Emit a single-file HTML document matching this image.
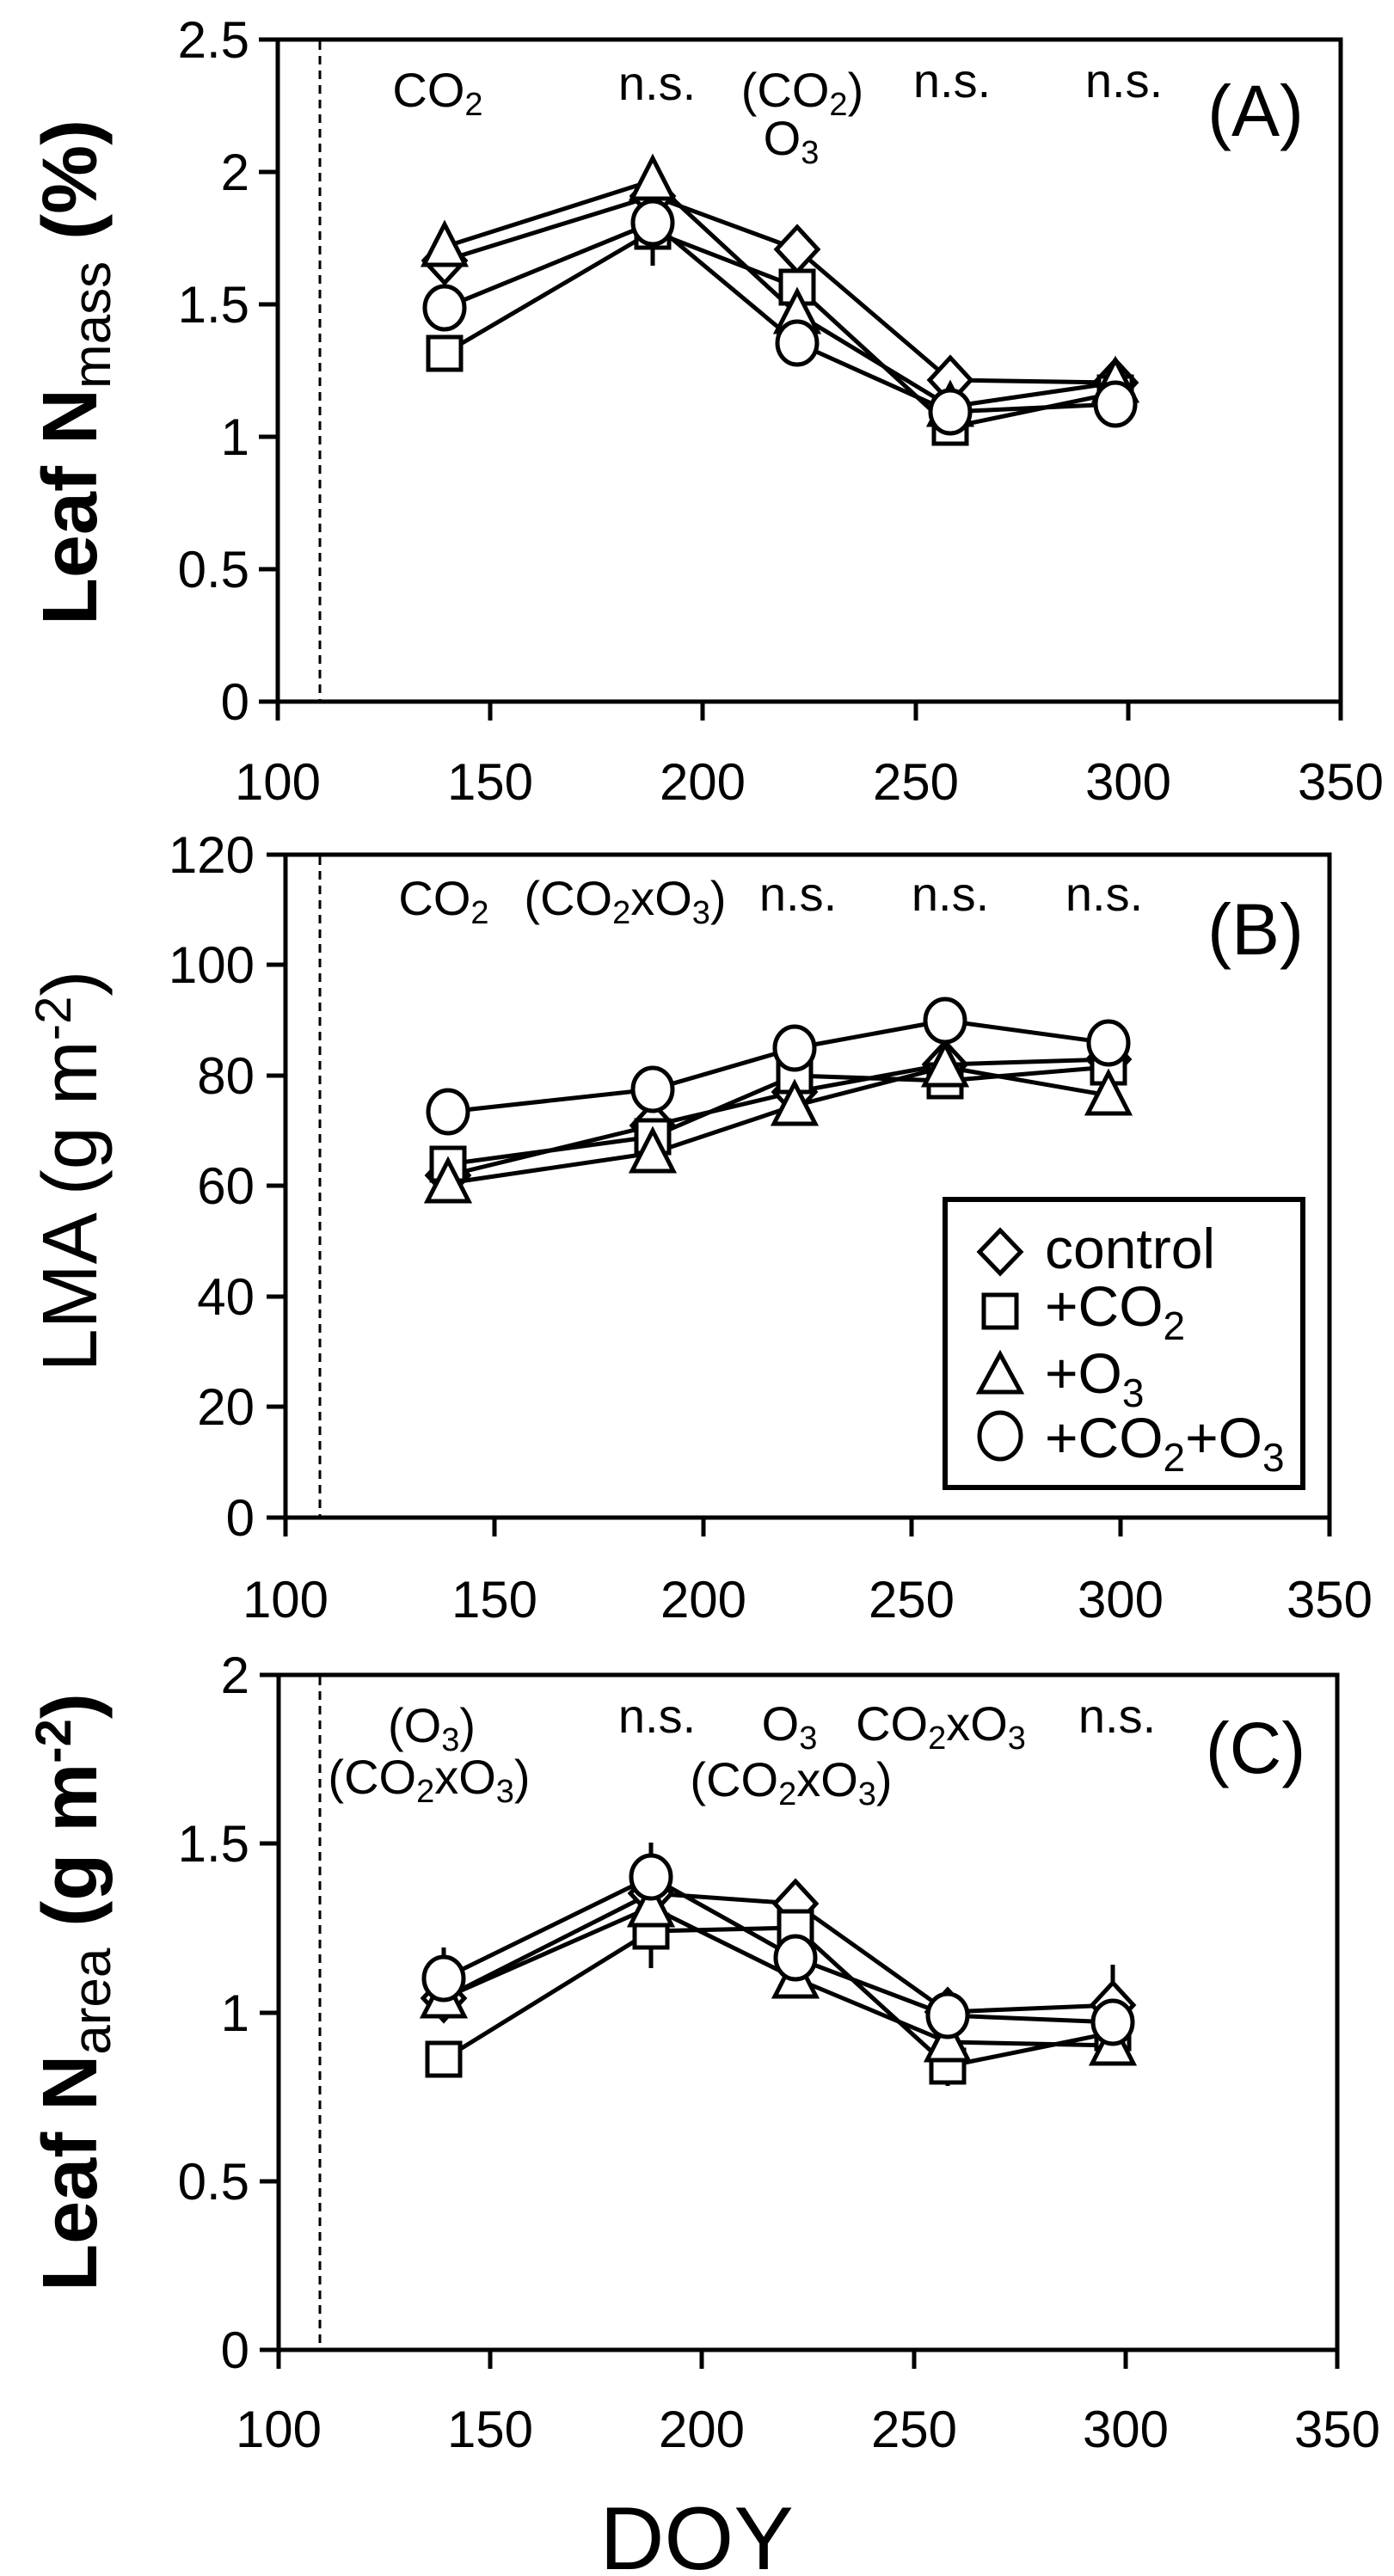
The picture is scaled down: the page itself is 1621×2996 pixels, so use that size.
<!DOCTYPE html>
<html><head><meta charset="utf-8"><style>
html,body{margin:0;padding:0;background:#fff;}
svg{display:block;}
text{font-family:"Liberation Sans",sans-serif;fill:#000;}
.t{font-size:60px;}
.an{font-size:56px;}
.lab{font-size:84px;}
.yl{font-size:90px;font-weight:bold;}
.lg{font-size:66px;}
.ax{stroke:#000;stroke-width:5;fill:none;}
.ln{stroke:#000;stroke-width:5;fill:none;stroke-linejoin:round;}
.mk{stroke:#000;stroke-width:5;fill:#fff;}
</style></head><body>
<svg width="1621" height="2996" viewBox="0 0 1621 2996" xmlns="http://www.w3.org/2000/svg">
<defs>
<path id="dm" d="M0,-26 L24,0 L0,26 L-24,0 Z"/>
<path id="sq" d="M-19,-19 H19 V19 H-19 Z"/>
<path id="tr" d="M0,-26 L24,21 L-24,21 Z"/>
<ellipse id="ci" cx="0" cy="0" rx="23" ry="25"/>
</defs>

<!-- ============ PANEL A ============ -->
<rect x="323" y="46" width="1236" height="770" class="ax"/>
<line x1="372" y1="48" x2="372" y2="814" stroke="#000" stroke-width="3" stroke-dasharray="10,7"/>
<g class="ax">
<line x1="301" y1="46" x2="323" y2="46"/><line x1="301" y1="200" x2="323" y2="200"/><line x1="301" y1="354" x2="323" y2="354"/><line x1="301" y1="508" x2="323" y2="508"/><line x1="301" y1="662" x2="323" y2="662"/><line x1="301" y1="816" x2="323" y2="816"/>
<line x1="323" y1="816" x2="323" y2="838"/><line x1="570" y1="816" x2="570" y2="838"/><line x1="817" y1="816" x2="817" y2="838"/><line x1="1065" y1="816" x2="1065" y2="838"/><line x1="1312" y1="816" x2="1312" y2="838"/><line x1="1559" y1="816" x2="1559" y2="838"/>
</g>
<g class="t" text-anchor="end">
<text x="290" y="67">2.5</text><text x="290" y="221">2</text><text x="290" y="375">1.5</text><text x="290" y="529">1</text><text x="290" y="683">0.5</text><text x="290" y="837">0</text>
</g>
<g class="t" text-anchor="middle">
<text x="323" y="930">100</text><text x="570" y="930">150</text><text x="817" y="930">200</text><text x="1065" y="930">250</text><text x="1312" y="930">300</text><text x="1559" y="930">350</text>
</g>
<text class="yl" transform="translate(112,433) rotate(-90)" text-anchor="middle">Leaf N<tspan font-size="62" font-weight="normal" dy="16">mass</tspan><tspan dy="-16"> (%)</tspan></text>
<g class="an" text-anchor="middle">
<text x="509" y="124">CO<tspan font-size="38" dy="10">2</tspan></text>
<text x="764" y="116">n.s.</text>
<text x="933" y="124">(CO<tspan font-size="38" dy="10">2</tspan><tspan dy="-10">)</tspan></text>
<text x="920" y="180">O<tspan font-size="38" dy="10">3</tspan></text>
<text x="1107" y="113">n.s.</text>
<text x="1307" y="113">n.s.</text>
</g>
<text class="lab" x="1460" y="158" text-anchor="middle">(A)</text>
<g class="ln">
<line x1="517" y1="432" x2="517" y2="411"/><line x1="759" y1="309" x2="759" y2="185"/><line x1="1297" y1="497" x2="1297" y2="417"/>
<polyline points="517,303 759,228 927,290 1105,442 1297,445"/>
<polyline points="517,411 759,269 927,334 1105,497 1297,457"/>
<polyline points="517,287 759,210 927,365 1105,473 1297,445"/>
<polyline points="517,358 759,259 927,399 1105,479 1297,470"/>
</g>
<g class="mk">
<use href="#dm" x="517" y="303"/><use href="#dm" x="759" y="228"/><use href="#dm" x="927" y="290"/><use href="#dm" x="1105" y="442"/><use href="#dm" x="1297" y="445"/>
<use href="#sq" x="517" y="411"/><use href="#sq" x="759" y="269"/><use href="#sq" x="927" y="334"/><use href="#sq" x="1105" y="497"/><use href="#sq" x="1297" y="457"/>
<use href="#tr" x="517" y="287"/><use href="#tr" x="759" y="210"/><use href="#tr" x="927" y="365"/><use href="#tr" x="1105" y="473"/><use href="#tr" x="1297" y="445"/>
<use href="#ci" x="517" y="358"/><use href="#ci" x="759" y="259"/><use href="#ci" x="927" y="399"/><use href="#ci" x="1105" y="479"/><use href="#ci" x="1297" y="470"/>
</g>

<!-- ============ PANEL B ============ -->
<rect x="332" y="994" width="1214" height="771" class="ax"/>
<line x1="372" y1="996" x2="372" y2="1763" stroke="#000" stroke-width="3" stroke-dasharray="10,7"/>
<g class="ax">
<line x1="310" y1="994" x2="332" y2="994"/><line x1="310" y1="1122" x2="332" y2="1122"/><line x1="310" y1="1251" x2="332" y2="1251"/><line x1="310" y1="1379" x2="332" y2="1379"/><line x1="310" y1="1508" x2="332" y2="1508"/><line x1="310" y1="1636" x2="332" y2="1636"/><line x1="310" y1="1765" x2="332" y2="1765"/>
<line x1="332" y1="1765" x2="332" y2="1787"/><line x1="575" y1="1765" x2="575" y2="1787"/><line x1="818" y1="1765" x2="818" y2="1787"/><line x1="1060" y1="1765" x2="1060" y2="1787"/><line x1="1303" y1="1765" x2="1303" y2="1787"/><line x1="1546" y1="1765" x2="1546" y2="1787"/>
</g>
<g class="t" text-anchor="end">
<text x="296" y="1015">120</text><text x="296" y="1143">100</text><text x="296" y="1272">80</text><text x="296" y="1400">60</text><text x="296" y="1529">40</text><text x="296" y="1657">20</text><text x="296" y="1786">0</text>
</g>
<g class="t" text-anchor="middle">
<text x="332" y="1881">100</text><text x="575" y="1881">150</text><text x="818" y="1881">200</text><text x="1060" y="1881">250</text><text x="1303" y="1881">300</text><text x="1546" y="1881">350</text>
</g>
<text class="yl" transform="translate(112,1362) rotate(-90)" text-anchor="middle" style="font-weight:normal">LMA (g m<tspan font-size="58" dy="-30">-2</tspan><tspan dy="30">)</tspan></text>
<g class="an" text-anchor="middle">
<text x="516" y="1064">CO<tspan font-size="38" dy="10">2</tspan></text>
<text x="727" y="1064">(CO<tspan font-size="38" dy="10">2</tspan><tspan dy="-10">xO</tspan><tspan font-size="38" dy="10">3</tspan><tspan dy="-10">)</tspan></text>
<text x="928" y="1059">n.s.</text>
<text x="1105" y="1059">n.s.</text>
<text x="1284" y="1059">n.s.</text>
</g>
<text class="lab" x="1460" y="1110" text-anchor="middle">(B)</text>
<g class="ln">
<line x1="521" y1="1316" x2="521" y2="1293"/><line x1="924" y1="1193" x2="924" y2="1302"/><line x1="1099" y1="1206" x2="1099" y2="1277"/><line x1="1289" y1="1296" x2="1289" y2="1273"/>
<polyline points="521,1367 759,1309 924,1270 1099,1238 1289,1232"/>
<polyline points="521,1354 759,1322 924,1251 1099,1257 1289,1241"/>
<polyline points="521,1376 759,1341 924,1286 1099,1241 1289,1274"/>
<polyline points="521,1293 759,1267 924,1219 1099,1187 1289,1213"/>
</g>
<g class="mk">
<use href="#dm" x="521" y="1367"/><use href="#dm" x="759" y="1309"/><use href="#dm" x="924" y="1270"/><use href="#dm" x="1099" y="1238"/><use href="#dm" x="1289" y="1232"/>
<use href="#sq" x="521" y="1354"/><use href="#sq" x="759" y="1322"/><use href="#sq" x="924" y="1251"/><use href="#sq" x="1099" y="1257"/><use href="#sq" x="1289" y="1241"/>
<use href="#tr" x="521" y="1376"/><use href="#tr" x="759" y="1341"/><use href="#tr" x="924" y="1286"/><use href="#tr" x="1099" y="1241"/><use href="#tr" x="1289" y="1274"/>
<use href="#ci" x="521" y="1293"/><use href="#ci" x="759" y="1267"/><use href="#ci" x="924" y="1219"/><use href="#ci" x="1099" y="1187"/><use href="#ci" x="1289" y="1213"/>
</g>
<!-- legend -->
<rect x="1099" y="1395" width="416" height="335" class="ax" style="stroke-width:6"/>
<g class="mk">
<path d="M1163,1431 L1187,1456 L1163,1481 L1139,1456 Z"/>
<rect x="1144" y="1506" width="38" height="38"/>
<path d="M1163,1575 L1187,1619 L1139,1619 Z"/>
<ellipse cx="1163" cy="1670" rx="24" ry="27"/>
</g>
<g class="lg">
<text x="1215" y="1475">control</text>
<text x="1215" y="1542">+CO<tspan font-size="46" dy="16">2</tspan></text>
<text x="1215" y="1620">+O<tspan font-size="46" dy="16">3</tspan></text>
<text x="1215" y="1695">+CO<tspan font-size="46" dy="16">2</tspan><tspan dy="-16">+O</tspan><tspan font-size="46" dy="16">3</tspan></text>
</g>

<!-- ============ PANEL C ============ -->
<rect x="324" y="1948" width="1231" height="785" class="ax"/>
<line x1="372" y1="1950" x2="372" y2="2731" stroke="#000" stroke-width="3" stroke-dasharray="10,7"/>
<g class="ax">
<line x1="302" y1="1948" x2="324" y2="1948"/><line x1="302" y1="2144" x2="324" y2="2144"/><line x1="302" y1="2341" x2="324" y2="2341"/><line x1="302" y1="2537" x2="324" y2="2537"/><line x1="302" y1="2733" x2="324" y2="2733"/>
<line x1="324" y1="2733" x2="324" y2="2755"/><line x1="570" y1="2733" x2="570" y2="2755"/><line x1="816" y1="2733" x2="816" y2="2755"/><line x1="1063" y1="2733" x2="1063" y2="2755"/><line x1="1309" y1="2733" x2="1309" y2="2755"/><line x1="1555" y1="2733" x2="1555" y2="2755"/>
</g>
<g class="t" text-anchor="end">
<text x="290" y="1969">2</text><text x="290" y="2165">1.5</text><text x="290" y="2362">1</text><text x="290" y="2558">0.5</text><text x="290" y="2754">0</text>
</g>
<g class="t" text-anchor="middle">
<text x="324" y="2846">100</text><text x="570" y="2846">150</text><text x="816" y="2846">200</text><text x="1063" y="2846">250</text><text x="1309" y="2846">300</text><text x="1555" y="2846">350</text>
</g>
<text x="810" y="2988" text-anchor="middle" font-size="104">DOY</text>
<text class="yl" transform="translate(112,2317) rotate(-90)" text-anchor="middle">Leaf N<tspan font-size="62" font-weight="normal" dy="16">area</tspan><tspan dy="-16"> (g m</tspan><tspan font-size="58" dy="-30">-2</tspan><tspan dy="30">)</tspan></text>
<g class="an" text-anchor="middle">
<text x="502" y="2026">(O<tspan font-size="38" dy="10">3</tspan><tspan dy="-10">)</tspan></text>
<text x="499" y="2086">(CO<tspan font-size="38" dy="10">2</tspan><tspan dy="-10">xO</tspan><tspan font-size="38" dy="10">3</tspan><tspan dy="-10">)</tspan></text>
<text x="764" y="2015">n.s.</text>
<text x="918" y="2024">O<tspan font-size="38" dy="10">3</tspan></text>
<text x="920" y="2089">(CO<tspan font-size="38" dy="10">2</tspan><tspan dy="-10">xO</tspan><tspan font-size="38" dy="10">3</tspan><tspan dy="-10">)</tspan></text>
<text x="1094" y="2024">CO<tspan font-size="38" dy="10">2</tspan><tspan dy="-10">xO</tspan><tspan font-size="38" dy="10">3</tspan></text>
<text x="1299" y="2015">n.s.</text>
</g>
<text class="lab" x="1460" y="2062" text-anchor="middle">(C)</text>
<g class="ln">
<line x1="516" y1="2265" x2="516" y2="2344"/><line x1="757" y1="2289" x2="757" y2="2143"/><line x1="1102" y1="2426" x2="1102" y2="2403"/><line x1="1294" y1="2399" x2="1294" y2="2285"/>
<polyline points="516,2324 757,2202 925,2214 1102,2340 1294,2332"/>
<polyline points="516,2395 757,2246 925,2242 1102,2403 1294,2364"/>
<polyline points="516,2324 757,2218 925,2301 1102,2375 1294,2379"/>
<polyline points="516,2301 757,2183 925,2277 1102,2344 1294,2352"/>
</g>
<g class="mk">
<use href="#dm" x="516" y="2324"/><use href="#dm" x="757" y="2202"/><use href="#dm" x="925" y="2214"/><use href="#dm" x="1102" y="2340"/><use href="#dm" x="1294" y="2332"/>
<use href="#sq" x="516" y="2395"/><use href="#sq" x="757" y="2246"/><use href="#sq" x="925" y="2242"/><use href="#sq" x="1102" y="2403"/><use href="#sq" x="1294" y="2364"/>
<use href="#tr" x="516" y="2324"/><use href="#tr" x="757" y="2218"/><use href="#tr" x="925" y="2301"/><use href="#tr" x="1102" y="2375"/><use href="#tr" x="1294" y="2379"/>
<use href="#ci" x="516" y="2301"/><use href="#ci" x="757" y="2183"/><use href="#ci" x="925" y="2277"/><use href="#ci" x="1102" y="2344"/><use href="#ci" x="1294" y="2352"/>
</g>
</svg>
</body></html>
